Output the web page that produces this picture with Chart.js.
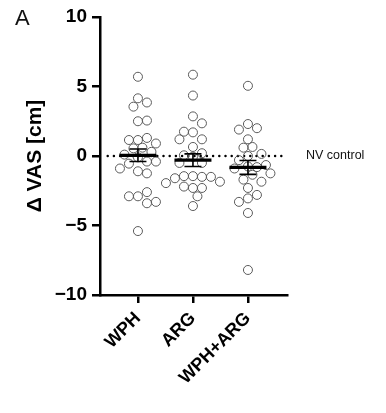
<!DOCTYPE html>
<html>
<head>
<meta charset="utf-8">
<script src="https://cdn.jsdelivr.net/npm/chart.js@4"></script>
<style>
  html, body { margin: 0; padding: 0; background: #fff; }
  canvas { display: block; }
</style>
</head>
<body>
<canvas id="chart" width="386" height="413"></canvas>
<script>
// === Data ===
var categories = ['WPH', 'ARG', 'WPH+ARG'];
var wphValues = [5.7, 4.15, 3.85, 3.55, 2.5, 2.55, 1.15, 1.3, 1.15, 0.9, 0.6, 0.55, 0.3, 0.1, -0.1,
  -0.4, -0.4, -0.55, -1.1, -1.25, -0.9, -2.9, -2.6, -2.9, -3.4, -3.3, -5.4];
var argValues = [5.85, 4.35, 2.85, 2.35, 1.7, 1.75, 1.2, 1.2, 0.65, 0.2, -0.05, 0.05, -0.5, -0.5,
  -1.45, -1.5, -1.45, -1.5, -1.6, -1.85, -1.95, -2.3, -2.3, -2.2, -2.9, -3.6];
var wphArgValues = [5.05, 2.3, 2.0, 1.9, 1.2, 0.65, 0.6, 0.0, 0.15, -0.3, -0.75, -0.8, -0.65, -0.9,
  -1.25, -1.35, -1.7, -1.85, -2.3, -2.8, -3.05, -3.3, -4.1, -8.2];
var groupMeans = [0.05, -0.3, -0.82];
var groupSems = [0.45, 0.45, 0.5];
var yTicks = [-10, -5, 0, 5, 10];
var controlLevel = 0;

var FONT = '"Liberation Sans", Arial, Helvetica, sans-serif';

// simple beeswarm: nudge points sideways so circles don't overlap
function swarm(vals, center) {
  var dx = 9 / 55;    // circle diameter in x units
  var dy = 9 / 13.9;  // circle diameter in y units
  var placed = [];
  return vals.map(function(v) {
    var k = 0, off = 0;
    for (var n = 0; n < 40; n++) {
      k = n === 0 ? 0 : (n % 2 ? Math.ceil(n / 2) : -Math.ceil(n / 2));
      off = k * dx * 0.5;
      var clash = placed.some(function(p) {
        var a = (off - p.off) / dx, b = (v - p.v) / dy;
        return a * a + b * b < 0.9;
      });
      if (!clash) break;
    }
    placed.push({ off: off, v: v });
    return { x: center + off, y: v };
  });
}

var pointStyle = {
  pointRadius: 4.5,
  pointBorderWidth: 1,
  pointBorderColor: '#5a5a5a',
  pointBackgroundColor: 'rgba(0,0,0,0)',
  showLine: false,
  order: 0
};

var groups = [wphValues, argValues, wphArgValues];
var datasets = groups.map(function(vals, i) {
  return Object.assign({ label: categories[i], data: swarm(vals, i) }, pointStyle);
});

datasets.push({
  type: 'line',
  label: 'NV control',
  data: [{ x: -0.55, y: controlLevel }, { x: 2.65, y: controlLevel }],
  borderColor: '#000',
  borderWidth: 2.5,
  borderDash: [0, 6.2],
  borderCapStyle: 'round',
  pointRadius: 0,
  order: 10
});

var overlay = {
  id: 'overlay',
  afterDatasetsDraw: function(chart) {
    var ctx = chart.ctx;
    var xs = chart.scales.x, ys = chart.scales.y;
    ctx.save();
    ctx.strokeStyle = '#000';
    groupMeans.forEach(function(m, i) {
      var cx = xs.getPixelForValue(i);
      var my = ys.getPixelForValue(m);
      var top = ys.getPixelForValue(m + groupSems[i]);
      var bot = ys.getPixelForValue(m - groupSems[i]);
      // SEM whiskers
      ctx.lineWidth = 1.6;
      ctx.beginPath();
      ctx.moveTo(cx, top); ctx.lineTo(cx, bot);
      ctx.moveTo(cx - 8.5, top); ctx.lineTo(cx + 8.5, top);
      ctx.moveTo(cx - 8.5, bot); ctx.lineTo(cx + 8.5, bot);
      ctx.stroke();
      // mean bar
      ctx.lineWidth = 3.2;
      ctx.beginPath();
      ctx.moveTo(cx - 18.5, my); ctx.lineTo(cx + 18.5, my);
      ctx.stroke();
    });
    ctx.fillStyle = '#111';
    ctx.textBaseline = 'middle';
    ctx.textAlign = 'left';
    ctx.font = '12.5px ' + FONT;
    ctx.fillText('NV control', 306, ys.getPixelForValue(controlLevel));
    ctx.font = '22px ' + FONT;
    ctx.fillText('A', 15, 19);
    ctx.restore();
  }
};

new Chart(document.getElementById('chart'), {
  type: 'scatter',
  data: { datasets: datasets },
  plugins: [overlay],
  options: {
    responsive: false,
    animation: false,
    devicePixelRatio: 1,
    layout: { padding: { left: 0, right: 99, top: 17, bottom: 0 } },
    plugins: { legend: { display: false }, tooltip: { enabled: false } },
    scales: {
      x: {
        type: 'linear',
        min: -0.69,
        max: 2.71,
        afterBuildTicks: function(axis) {
          axis.ticks = categories.map(function(c, i) { return { value: i }; });
        },
        afterFit: function(axis) { axis.height = 118; },
        border: { display: true, color: '#000', width: 2.5 },
        grid: { drawOnChartArea: false, drawTicks: true, tickLength: 8, color: '#000', lineWidth: 2.5 },
        ticks: {
          autoSkip: false,
          minRotation: 45,
          maxRotation: 45,
          padding: 5,
          color: '#000',
          font: { family: FONT, size: 18, weight: 'bold' },
          callback: function(v) { return categories[v]; }
        }
      },
      y: {
        min: -10,
        max: 10,
        afterBuildTicks: function(axis) {
          axis.ticks = yTicks.map(function(v) { return { value: v }; });
        },
        afterFit: function(axis) { axis.width = 100; },
        border: { display: true, color: '#000', width: 2.5 },
        grid: { drawOnChartArea: false, drawTicks: true, tickLength: 8, color: '#000', lineWidth: 2.5 },
        title: {
          display: true,
          text: '\u0394 VAS [cm]',
          color: '#000',
          padding: { top: 23, bottom: 0 },
          font: { family: FONT, size: 21, weight: 'bold' }
        },
        ticks: {
          padding: 5,
          color: '#000',
          font: { family: FONT, size: 19, weight: 'bold' },
          callback: function(v) { return String(v).replace('-', '\u2212'); }
        }
      }
    }
  }
});
</script>
</body>
</html>
